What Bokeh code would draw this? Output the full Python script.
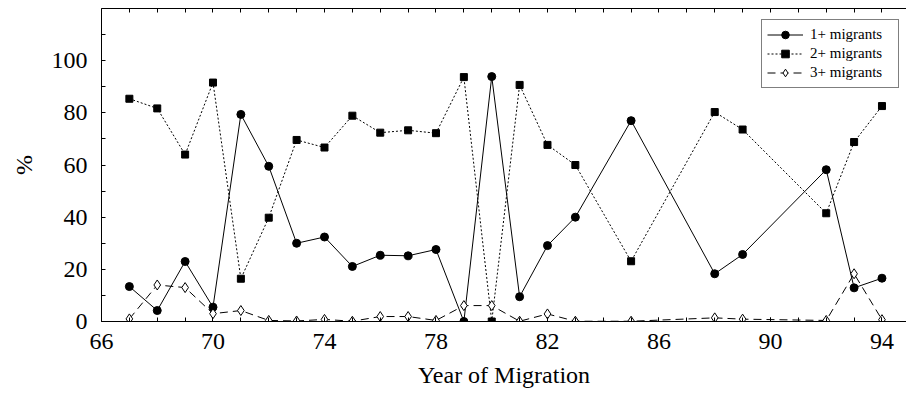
from bokeh.plotting import figure
from bokeh.models import (Range1d, LinearAxis, FixedTicker, Legend,
                          LegendItem, ColumnDataSource)
from bokeh.embed import file_html
from bokeh.resources import INLINE

# Year of migration (two-digit years)
years = [67, 68, 69, 70, 71, 72, 73, 74, 75, 76, 77, 78, 79, 80, 81, 82, 83,
         85, 88, 89, 92, 93, 94]

# Share of households (%) by number of migrants
one_plus = [13.4, 4.2, 23.0, 5.5, 79.4, 59.5, 30.0, 32.4, 21.1, 25.4, 25.2,
            27.6, 0.0, 93.9, 9.5, 29.1, 40.0, 77.0, 18.3, 25.7, 58.2, 12.9, 16.6]
two_plus = [85.4, 81.7, 64.0, 91.6, 16.4, 39.8, 69.6, 66.7, 78.9, 72.4, 73.3,
            72.2, 93.7, 0.0, 90.7, 67.7, 60.0, 23.1, 80.3, 73.6, 41.5, 68.8, 82.6]
three_plus = [1.0, 14.0, 13.0, 3.0, 4.2, 0.4, 0.2, 0.8, 0.1, 1.9, 1.9, 0.4,
              6.1, 6.1, 0.1, 2.9, 0.1, 0.1, 1.4, 0.9, 0.4, 18.3, 0.7]

series_names = ["1+ migrants", "2+ migrants", "3+ migrants"]

# labelled ticks, and the unlabelled in-between ticks
x_ticks = [66, 70, 74, 78, 82, 86, 90, 94]
x_minor = list(range(66, 95))
y_ticks = [0, 20, 40, 60, 80, 100]
y_minor = [10, 30, 50, 70, 90, 110]

FONT = "Liberation Serif"

src = ColumnDataSource(dict(year=years, s1=one_plus, s2=two_plus, s3=three_plus))

p = figure(width=906, height=393, output_backend="svg", toolbar_location=None,
           x_range=Range1d(66, 94.88), y_range=Range1d(0, 120),
           min_border_left=101, min_border_right=0, min_border_top=8,
           min_border_bottom=72)
p.outline_line_color = None
p.xgrid.visible = False
p.ygrid.visible = False
p.background_fill_color = "white"
p.border_fill_color = "white"

# bottom axis
xa = p.xaxis[0]
xa.ticker = FixedTicker(ticks=x_ticks, minor_ticks=x_minor)
xa.axis_label = "Year of Migration"
# left axis
ya = p.yaxis[0]
ya.ticker = FixedTicker(ticks=y_ticks, minor_ticks=y_minor)
ya.axis_label = "%"

for ax in (xa, ya):
    ax.axis_line_color = "black"
    ax.axis_line_width = 1
    ax.major_tick_in = 4
    ax.major_tick_out = 0
    ax.minor_tick_in = 4
    ax.minor_tick_out = 0
    ax.major_tick_line_color = "black"
    ax.minor_tick_line_color = "black"
    ax.major_label_text_font = FONT
    ax.major_label_text_font_size = "24px"
    ax.major_label_text_color = "black"
    ax.axis_label_text_font = FONT
    ax.axis_label_text_font_size = "24px"
    ax.axis_label_text_font_style = "normal"
    ax.axis_label_text_color = "black"

xa.major_label_standoff = 12
xa.axis_label_standoff = 10
ya.major_label_standoff = 14
ya.axis_label_standoff = 12
ya.major_label_orientation = "horizontal"

# top axis: yearly ticks only (minor ticks carry no labels)
top = LinearAxis(ticker=FixedTicker(ticks=[], minor_ticks=x_minor),
                 major_tick_in=0, major_tick_out=0, minor_tick_in=4,
                 minor_tick_out=0, minor_tick_line_color="black",
                 axis_line_color="black")
p.add_layout(top, "above")

l1 = p.line("year", "s1", source=src, line_color="black", line_width=1)
m1 = p.scatter("year", "s1", source=src, marker="circle", size=8,
               fill_color="black", line_color="black")
l2 = p.line("year", "s2", source=src, line_color="black", line_width=1,
            line_dash="2 2")
m2 = p.scatter("year", "s2", source=src, marker="square", size=7,
               fill_color="black", line_color="black")
l3 = p.line("year", "s3", source=src, line_color="black", line_width=1,
            line_dash="8 5")
m3 = p.scatter("year", "s3", source=src, marker="diamond", size=10,
               fill_color="white", line_color="black", line_width=1)

legend = Legend(items=[LegendItem(label=series_names[0], renderers=[l1, m1]),
                       LegendItem(label=series_names[1], renderers=[l2, m2]),
                       LegendItem(label=series_names[2], renderers=[l3, m3])],
                location=(660, 233), orientation="vertical",
                padding=5, spacing=0, margin=0,
                glyph_width=36, glyph_height=19, label_height=19,
                label_width=83, label_standoff=7,
                label_text_font=FONT, label_text_font_size="15px",
                label_text_color="black",
                border_line_color="black", border_line_width=1,
                background_fill_color="white", background_fill_alpha=1)
p.add_layout(legend, "center")

open("out.html", "w").write(file_html(p, INLINE))
